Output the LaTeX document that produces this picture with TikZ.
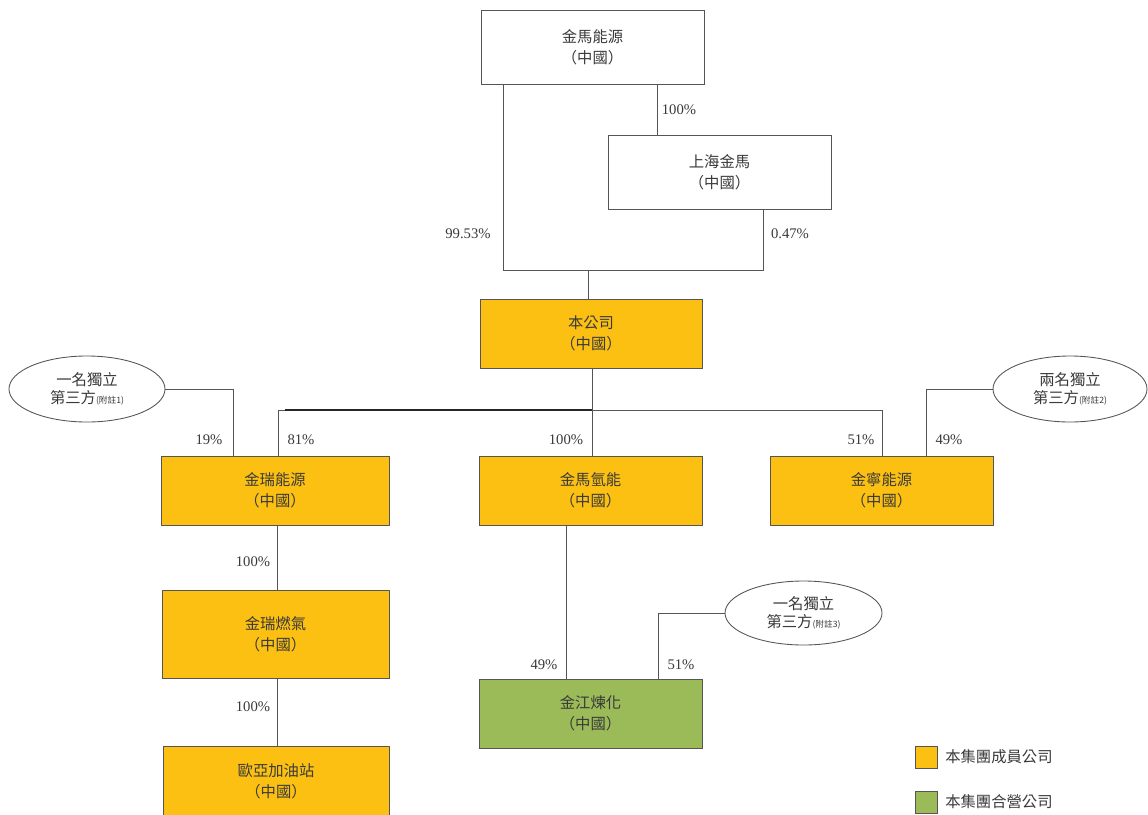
\documentclass[tikz,border=0pt]{standalone}
\usepackage{fontspec}
\setmainfont{Liberation Serif}
\newfontfamily\cjk{Noto Sans CJK TC}
\usetikzlibrary{shapes.geometric}
\definecolor{gold}{HTML}{FBC012}
\definecolor{olive}{HTML}{9BBB59}
\definecolor{txt}{HTML}{3A3A3A}
\definecolor{ln}{HTML}{555555}
\tikzset{
  ent/.style={draw=ln, line width=0.65pt, fill=white, text=txt, align=center, font=\cjk\fontsize{11.5}{15.5}\selectfont, inner sep=0pt},
  mem/.style={ent, fill=gold},
  jv/.style={ent, fill=olive},
  party/.style={draw=ln, line width=0.65pt, ellipse, fill=white, text=txt, align=center, font=\cjk\fontsize{11.5}{14}\selectfont, inner sep=0pt},
  pct/.style={text=txt, font=\fontsize{11}{13}\selectfont, inner sep=0pt},
  conn/.style={draw=ln, line width=0.7pt}
}
\newcommand{\notemark}[1]{{\fontsize{6.5}{7}\selectfont\itshape (附註#1)}}
\begin{document}
\begin{tikzpicture}[x=0.75pt,y=-0.75pt]
\clip (0,0) rectangle (1148,814);
\fill[white] (0,0) rectangle (1148,814);
% boxes
\node[ent, minimum width=223*0.75pt, minimum height=74*0.75pt] (jm) at (592.5,47) {金馬能源\\（中國）};
\node[ent, minimum width=223*0.75pt, minimum height=74*0.75pt] (sh) at (719.5,172) {上海金馬\\（中國）};
\node[mem, minimum width=222*0.75pt, minimum height=69*0.75pt] (co) at (591,333.5) {本公司\\（中國）};
\node[mem, minimum width=228*0.75pt, minimum height=69*0.75pt] (jr) at (275,490.5) {金瑞能源\\（中國）};
\node[mem, minimum width=223*0.75pt, minimum height=69*0.75pt] (hy) at (590.5,490.5) {金馬氫能\\（中國）};
\node[mem, minimum width=223*0.75pt, minimum height=69*0.75pt] (jn) at (881.5,490.5) {金寧能源\\（中國）};
\node[mem, minimum width=227*0.75pt, minimum height=88*0.75pt] (gas) at (275.5,634) {金瑞燃氣\\（中國）};
\node[jv, minimum width=223*0.75pt, minimum height=69*0.75pt] (jj) at (590.5,713.5) {金江煉化\\（中國）};
\node[mem, minimum width=226*0.75pt, minimum height=100*0.75pt] (oy) at (276,796) {};
\node[text=txt, align=center, font=\cjk\fontsize{11.5}{15.5}\selectfont, inner sep=0pt] (oyt) at (276,781) {歐亞加油站\\（中國）};
% ellipses
\node[party, minimum width=156*0.75pt, minimum height=66*0.75pt] (p1) at (87,389) {一名獨立\\第三方\notemark{1}};
\node[party, minimum width=154*0.75pt, minimum height=66*0.75pt] (p2) at (1070,389) {兩名獨立\\第三方\notemark{2}};
\node[party, minimum width=157*0.75pt, minimum height=64*0.75pt] (p3) at (803.5,613) {一名獨立\\第三方\notemark{3}};
% coordinates
\coordinate (j1) at (503,270);
\coordinate (j2) at (763,270);
\coordinate (jc) at (588,270);
\coordinate (b0) at (592,410);
\coordinate (bl) at (278,410);
\coordinate (br) at (882,410);
\coordinate (e1) at (233,389);
\coordinate (e2) at (926,389);
\coordinate (e3) at (658,613);
% connectors
\draw[conn] (jm.south -| j1) -- (j1) -- (j2) -- (sh.south -| j2);
\draw[conn] (jc) -- (co.north -| jc);
\draw[conn] (jm.south -| 657,0) -- (sh.north -| 657,0);
\draw[conn] (co.south -| b0) -- (b0);
\draw[conn] (jr.north -| bl) -- (bl) -- (br) -- (jn.north -| br);
\draw[draw=black!85, line width=1.5pt] (285,410) -- (592,410);
\draw[conn] (b0) -- (hy.north -| b0);
\draw[conn] (p1.east) -- (e1) -- (jr.north -| e1);
\draw[conn] (p2.west) -- (e2) -- (jn.north -| e2);
\draw[conn] (jr.south -| 277,0) -- (gas.north -| 277,0);
\draw[conn] (gas.south -| 277,0) -- (oy.north -| 277,0);
\draw[conn] (hy.south -| 566,0) -- (jj.north -| 566,0);
\draw[conn] (p3.west) -- (e3) -- (jj.north -| e3);
% percentages
\node[pct] (l1) at (679,110) {100\%};
\node[pct] (l2) at (468,234) {99.53\%};
\node[pct] (l3) at (790,234) {0.47\%};
\node[pct] (l4) at (209,440) {19\%};
\node[pct] (l5) at (301,440) {81\%};
\node[pct] (l6) at (566,440) {100\%};
\node[pct] (l7) at (861,440) {51\%};
\node[pct] (l8) at (949,440) {49\%};
\node[pct] (l9) at (253,562) {100\%};
\node[pct] (l10) at (253,707) {100\%};
\node[pct] (l11) at (544,665) {49\%};
\node[pct] (l12) at (681,665) {51\%};
% legend
\node[draw=ln, line width=0.65pt, fill=gold, minimum size=22*0.75pt, inner sep=0pt] (k1) at (926,757) {};
\node[anchor=west, text=txt, font=\cjk\fontsize{11.5}{13}\selectfont, inner sep=0pt] (k1t) at (945,757) {本集團成員公司};
\node[draw=ln, line width=0.65pt, fill=olive, minimum size=22*0.75pt, inner sep=0pt] (k2) at (926,802) {};
\node[anchor=west, text=txt, font=\cjk\fontsize{11.5}{13}\selectfont, inner sep=0pt] (k2t) at (945,802) {本集團合營公司};
\end{tikzpicture}
\end{document}
